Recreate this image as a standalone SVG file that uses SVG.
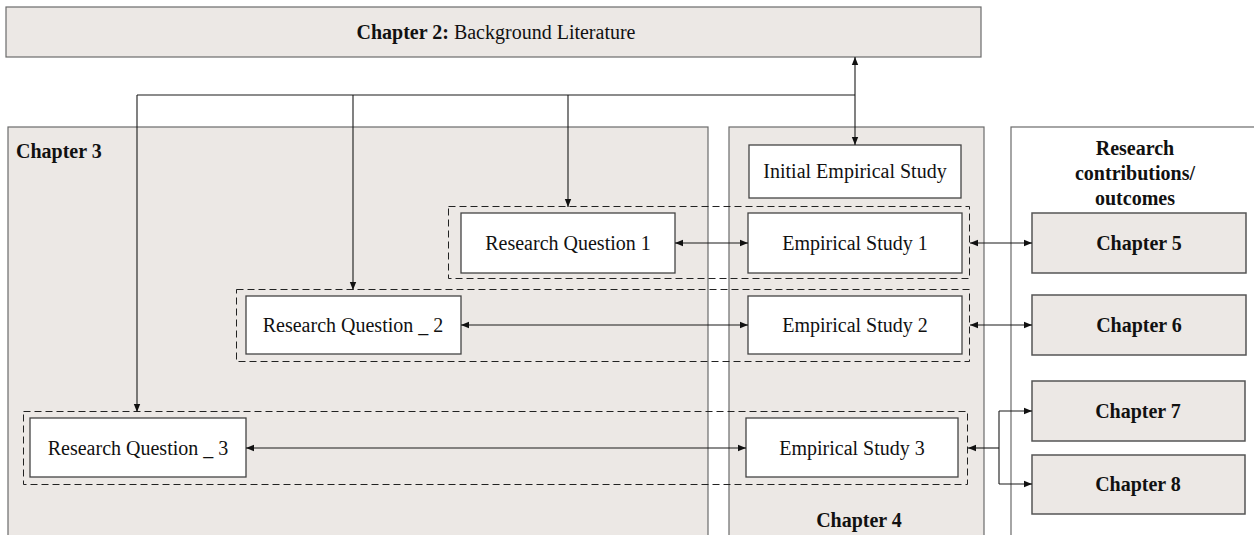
<svg xmlns="http://www.w3.org/2000/svg" width="1254" height="535" viewBox="0 0 1254 535">
<defs>
<style>
.bg{fill:#ece8e5;stroke:#6b6b6b;stroke-width:1.2}
.wb{fill:#ffffff;stroke:#444;stroke-width:1.3}
.gb{fill:#ece8e5;stroke:#555;stroke-width:1.5}
.ob{fill:#ffffff;stroke:#6b6b6b;stroke-width:1.2}
.dash{fill:none;stroke:#222;stroke-width:1;stroke-dasharray:7 4}
.t{font-family:"Liberation Serif","Times New Roman",serif;font-size:20px;fill:#111;text-anchor:middle}
.b{font-weight:bold}
.ln{fill:none;stroke:#1a1a1a;stroke-width:1.1}
</style>
<marker id="ah" viewBox="0 0 10 10" refX="10" refY="5" markerWidth="8" markerHeight="8" orient="auto-start-reverse" markerUnits="userSpaceOnUse">
<path d="M0,1 L10,5 L0,9 z" fill="#111"/>
</marker>
</defs>

<g id="chapter2">
<rect class="bg" x="6" y="7" width="975" height="50"/>
<text class="t" x="496" y="39"><tspan class="b">Chapter 2:</tspan> Background Literature</text>
</g>

<g id="chapter3">
<rect class="bg" x="8" y="127" width="700" height="420"/>
<text class="t b" x="16" y="158" style="text-anchor:start">Chapter 3</text>
</g>

<g id="chapter4">
<rect class="bg" x="729" y="127" width="255" height="420"/>
<text class="t b" x="859" y="527">Chapter 4</text>
</g>

<g id="outcomes">
<rect class="ob" x="1011" y="127" width="260" height="420"/>
<text class="t b" x="1135" y="155">Research</text>
<text class="t b" x="1135" y="180">contributions/</text>
<text class="t b" x="1135" y="205">outcomes</text>
</g>

<g id="group1"><rect class="dash" x="448.5" y="206.5" width="521" height="72"/></g>
<g id="group2"><rect class="dash" x="236.5" y="289.5" width="733" height="72"/></g>
<g id="group3"><rect class="dash" x="23.5" y="411.5" width="944" height="73"/></g>

<g id="initial-study">
<rect class="wb" x="749" y="145" width="212" height="53"/>
<text class="t" x="855" y="178">Initial Empirical Study</text>
</g>

<g id="rq1">
<rect class="wb" x="461" y="213" width="214" height="60"/>
<text class="t" x="568" y="250">Research Question 1</text>
</g>
<g id="es1">
<rect class="wb" x="748" y="213" width="214" height="60"/>
<text class="t" x="855" y="250">Empirical Study 1</text>
</g>

<g id="rq2">
<rect class="wb" x="246" y="296" width="215" height="58"/>
<text class="t" x="353" y="332">Research Question _ 2</text>
</g>
<g id="es2">
<rect class="wb" x="748" y="296" width="214" height="58"/>
<text class="t" x="855" y="332">Empirical Study 2</text>
</g>

<g id="rq3">
<rect class="wb" x="30" y="418" width="216" height="59"/>
<text class="t" x="138" y="455">Research Question _ 3</text>
</g>
<g id="es3">
<rect class="wb" x="746" y="418" width="212" height="59"/>
<text class="t" x="852" y="455">Empirical Study 3</text>
</g>

<g id="ch5">
<rect class="gb" x="1032" y="213" width="214" height="60"/>
<text class="t b" x="1139" y="250">Chapter 5</text>
</g>
<g id="ch6">
<rect class="gb" x="1032" y="295" width="214" height="60"/>
<text class="t b" x="1139" y="332">Chapter 6</text>
</g>
<g id="ch7">
<rect class="gb" x="1032" y="381" width="213" height="60"/>
<text class="t b" x="1138" y="418">Chapter 7</text>
</g>
<g id="ch8">
<rect class="gb" x="1032" y="455" width="213" height="59"/>
<text class="t b" x="1138" y="491">Chapter 8</text>
</g>

<g id="connectors">
<path class="ln" d="M855,57 L855,145" marker-start="url(#ah)" marker-end="url(#ah)"/>
<path class="ln" d="M137,95 L855,95"/>
<path class="ln" d="M568,95 L568,207" marker-end="url(#ah)"/>
<path class="ln" d="M353,95 L353,290" marker-end="url(#ah)"/>
<path class="ln" d="M137,95 L137,412" marker-end="url(#ah)"/>
<path class="ln" d="M675,243 L748,243" marker-start="url(#ah)" marker-end="url(#ah)"/>
<path class="ln" d="M461,325 L748,325" marker-start="url(#ah)" marker-end="url(#ah)"/>
<path class="ln" d="M246,448 L746,448" marker-start="url(#ah)" marker-end="url(#ah)"/>
<path class="ln" d="M970,243 L1032,243" marker-start="url(#ah)" marker-end="url(#ah)"/>
<path class="ln" d="M970,325 L1032,325" marker-start="url(#ah)" marker-end="url(#ah)"/>
<path class="ln" d="M999,448 L968,448" marker-end="url(#ah)"/>
<path class="ln" d="M999,411 L999,484"/>
<path class="ln" d="M999,411 L1032,411" marker-end="url(#ah)"/>
<path class="ln" d="M999,484 L1032,484" marker-end="url(#ah)"/>
</g>
</svg>
